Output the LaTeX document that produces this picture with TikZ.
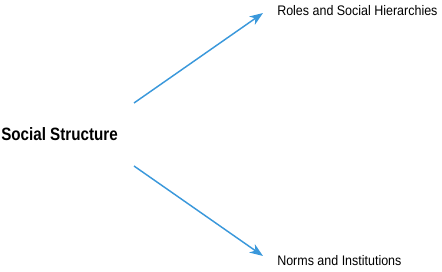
\documentclass[tikz,border=0pt]{standalone}
\usepackage{fontspec}
\setmainfont{Liberation Sans}
\newfontfamily\labelfont{Liberation Sans}[FakeStretch=0.9]
\newfontfamily\headfont{Liberation Sans}[FakeStretch=0.85]
\usetikzlibrary{arrows.meta}
\definecolor{linkblue}{RGB}{58,152,219}

\begin{document}
\begin{tikzpicture}[x=0.75pt, y=-0.75pt,
  label/.style={anchor=base west, inner sep=0pt, font=\labelfont\fontsize{10.4}{12}\selectfont},
  link/.style={draw=linkblue, line width=1.1pt, -{Stealth[length=10pt, width=7.5pt, inset=3pt]}}]
\useasboundingbox (0,0) rectangle (442,271);
\node[anchor=base west, inner sep=0pt, font=\headfont\bfseries\fontsize{13.4}{15}\selectfont] (social) at (1,140) {Social Structure};
\node[label] (roles) at (277,16) {Roles and Social Hierarchies};
\node[label] (norms) at (277,265) {Norms and Institutions};
\coordinate (up) at (134,103);
\coordinate (down) at (134,166);
\coordinate (rolestip) at (263,13);
\coordinate (normstip) at (263,256);
\draw[link] (up) -- (rolestip);
\draw[link] (down) -- (normstip);
\end{tikzpicture}
\end{document}
